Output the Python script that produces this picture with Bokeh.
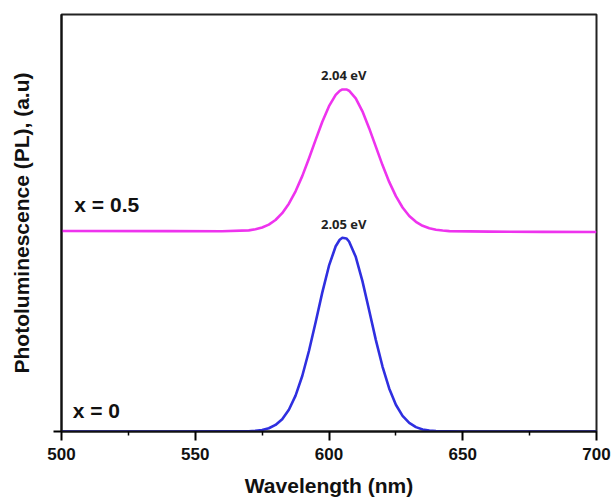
from bokeh.plotting import figure
from bokeh.models import Range1d, FixedTicker, Label
from bokeh.embed import file_html
from bokeh.resources import INLINE

# Wavelength grid (nm) and PL intensities (a.u.)
wl_x0 = [500, 540, 560, 570, 572.5, 575, 577.5, 580, 582.5, 585, 587.5, 590, 592.5, 595,
         597.5, 600, 602.5, 604, 605, 606.5, 607.5, 610, 612.5, 615, 617.5, 620, 622.5, 625,
         627.5, 630, 632.5, 635, 637.5, 640, 650, 680, 700]
pl_x0 = [0.0, 0.0, 0.001, 0.003, 0.007, 0.015, 0.033, 0.066, 0.124, 0.219, 0.361, 0.558,
         0.809, 1.098, 1.398, 1.666, 1.861, 1.927, 1.947, 1.940, 1.909, 1.755, 1.511, 1.219,
         0.921, 0.653, 0.433, 0.269, 0.157, 0.086, 0.044, 0.021, 0.009, 0.004, 0.0, 0.0, 0.0]

wl_x05 = [500, 540, 560, 570, 572.5, 575, 577.5, 580, 582.5, 585, 587.5, 590, 592.5, 595,
          597.5, 600, 602.5, 604, 605, 606.5, 607.5, 610, 612.5, 615, 617.5, 620, 622.5, 625,
          627.5, 630, 632.5, 635, 637.5, 640, 642.5, 645, 660, 680, 700]
pl_x05 = [2.015, 2.013, 2.012, 2.021, 2.032, 2.050, 2.079, 2.125, 2.194, 2.289, 2.413,
          2.566, 2.743, 2.930, 3.112, 3.269, 3.383, 3.423, 3.437, 3.437, 3.424, 3.348, 3.217,
          3.048, 2.862, 2.677, 2.508, 2.365, 2.251, 2.166, 2.107, 2.067, 2.042, 2.027, 2.019,
          2.013, 2.008, 2.006, 2.005]

x_ticks = [500, 550, 600, 650, 700]
x_minor_ticks = [525, 575, 625, 675]
series_labels = ["x = 0", "x = 0.5"]
peak_labels = ["2.05 eV", "2.04 eV"]
peak_wl = [605.5, 605.5]
peak_label_y = [2.08, 3.58]
series_label_pos = [(504.2, 0.21), (504.8, 2.28)]

p = figure(width=612, height=499, output_backend="svg", toolbar_location=None,
           x_range=Range1d(500, 700), y_range=Range1d(0, 4.19),
           min_border_left=61, min_border_right=16, min_border_top=14, min_border_bottom=66)

p.line(wl_x0, pl_x0, line_color="#2f2fe0", line_width=2.6, line_join="round")
p.line(wl_x05, pl_x05, line_color="#ee33ee", line_width=2.6, line_join="round")

p.xgrid.visible = False
p.ygrid.visible = False
p.outline_line_color = "#222222"
p.outline_line_width = 2
p.background_fill_color = "white"
p.border_fill_color = "white"

xa = p.xaxis[0]
xa.ticker = FixedTicker(ticks=x_ticks, minor_ticks=x_minor_ticks)
xa.axis_label = "Wavelength (nm)"
xa.axis_label_text_font = "Liberation Sans"
xa.axis_label_text_font_style = "bold"
xa.axis_label_text_font_size = "21px"
xa.axis_label_text_color = "#111111"
xa.axis_label_standoff = 11
xa.major_label_text_font = "Liberation Sans"
xa.major_label_text_font_style = "bold"
xa.major_label_text_font_size = "17px"
xa.major_label_text_color = "#111111"
xa.major_label_standoff = 7
xa.major_tick_out = 9
xa.major_tick_in = 0
xa.minor_tick_out = 4
xa.minor_tick_in = 0
xa.axis_line_width = 2
xa.major_tick_line_width = 2
xa.minor_tick_line_width = 1.5
xa.axis_line_color = "#111111"

ya = p.yaxis[0]
ya.ticker = FixedTicker(ticks=[0])
ya.major_label_overrides = {0: ""}
ya.axis_label = "Photoluminescence (PL), (a.u)"
ya.axis_label_text_font = "Liberation Sans"
ya.axis_label_text_font_style = "bold"
ya.axis_label_text_font_size = "21px"
ya.axis_label_text_color = "#111111"
ya.axis_label_standoff = 21
ya.major_tick_out = 8
ya.major_tick_in = 0
ya.minor_tick_out = 0
ya.minor_tick_in = 0
ya.axis_line_width = 2
ya.major_tick_line_width = 2
ya.axis_line_color = "#111111"

for wl, yv, txt in zip(peak_wl, peak_label_y, peak_labels):
    p.add_layout(Label(x=wl, y=yv, text=txt, text_align="center", text_baseline="middle",
                       text_font="Open Sans", text_font_style="bold", text_font_size="13px",
                       text_color="#222222"))

for (lx, ly), txt in zip(series_label_pos, series_labels):
    p.add_layout(Label(x=lx, y=ly, text=txt, text_align="left", text_baseline="middle",
                       text_font="Liberation Sans", text_font_style="bold", text_font_size="21px",
                       text_color="#111111"))

open("out.html", "w").write(file_html(p, INLINE))
